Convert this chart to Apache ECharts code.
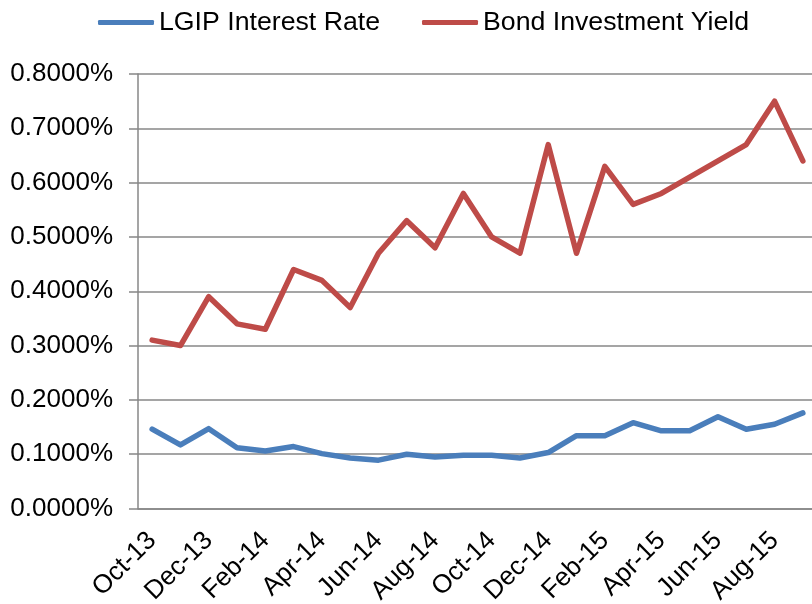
<!DOCTYPE html>
<html>
<head>
<meta charset="utf-8">
<script src="https://cdn.jsdelivr.net/npm/echarts@6/dist/echarts.min.js"></script>
<style>
  html, body { margin: 0; padding: 0; background: #fff; }
  #chart { width: 812px; height: 604px; }
</style>
</head>
<body>
<div id="chart"></div>
<script>
// months Oct-13 .. Sep-15
var months = ['Oct-13', 'Nov-13', 'Dec-13', 'Jan-14', 'Feb-14', 'Mar-14', 'Apr-14', 'May-14',
  'Jun-14', 'Jul-14', 'Aug-14', 'Sep-14', 'Oct-14', 'Nov-14', 'Dec-14', 'Jan-15',
  'Feb-15', 'Mar-15', 'Apr-15', 'May-15', 'Jun-15', 'Jul-15', 'Aug-15', 'Sep-15'];

// values in percent
var lgipRate = [0.146, 0.117, 0.147, 0.112, 0.106, 0.114, 0.101, 0.093,
  0.089, 0.100, 0.095, 0.098, 0.098, 0.093, 0.103, 0.134,
  0.134, 0.158, 0.143, 0.143, 0.169, 0.146, 0.155, 0.176];
var bondYield = [0.31, 0.30, 0.39, 0.34, 0.33, 0.44, 0.42, 0.37,
  0.47, 0.53, 0.48, 0.58, 0.50, 0.47, 0.67, 0.47,
  0.63, 0.56, 0.58, 0.61, 0.64, 0.67, 0.75, 0.64];

var font = 'Liberation Sans, Arial, sans-serif';
var gridGray = '#878787';

var chart = echarts.init(document.getElementById('chart'));
var option = {
  animation: false,
  textStyle: { fontFamily: font },
  legend: {
    left: 98,
    top: 9,
    padding: 0,
    icon: 'roundRect',
    itemWidth: 56,
    itemHeight: 5,
    itemGap: 42,
    textStyle: { fontSize: 26.7, color: '#000', fontFamily: font },
    data: ['LGIP Interest Rate', 'Bond Investment Yield']
  },
  grid: {
    left: 138,
    top: 74,
    width: 679,
    bottom: 95.5,
    containLabel: false,
    outerBoundsMode: 'none'
  },
  xAxis: {
    type: 'category',
    data: months,
    boundaryGap: true,
    axisLine: { lineStyle: { color: gridGray, width: 1.5 } },
    axisTick: { interval: 1, length: 8, lineStyle: { color: gridGray, width: 1.5 } },
    axisLabel: {
      interval: 1,
      rotate: 45,
      margin: 28,
      fontSize: 26,
      color: '#000',
      fontFamily: font
    },
    splitLine: { show: false }
  },
  yAxis: {
    type: 'value',
    min: 0,
    max: 0.8,
    interval: 0.1,
    axisLine: { show: true, lineStyle: { color: gridGray, width: 1.5 } },
    axisTick: { show: true, length: 9, lineStyle: { color: gridGray, width: 1.5 } },
    axisLabel: {
      margin: 25,
      fontSize: 26,
      color: '#000',
      fontFamily: font,
      formatter: function (v) { return v.toFixed(4) + '%'; }
    },
    splitLine: { lineStyle: { color: gridGray, width: 1.5 } }
  },
  series: [
    {
      name: 'LGIP Interest Rate',
      type: 'line',
      data: lgipRate,
      symbol: 'none',
      color: '#4A7EBB',
      lineStyle: { width: 5.5, color: '#4A7EBB', cap: 'round', join: 'round' }
    },
    {
      name: 'Bond Investment Yield',
      type: 'line',
      data: bondYield,
      symbol: 'none',
      color: '#BE4B48',
      lineStyle: { width: 5.5, color: '#BE4B48', cap: 'round', join: 'round' }
    }
  ]
};
chart.setOption(option);
</script>
</body>
</html>
